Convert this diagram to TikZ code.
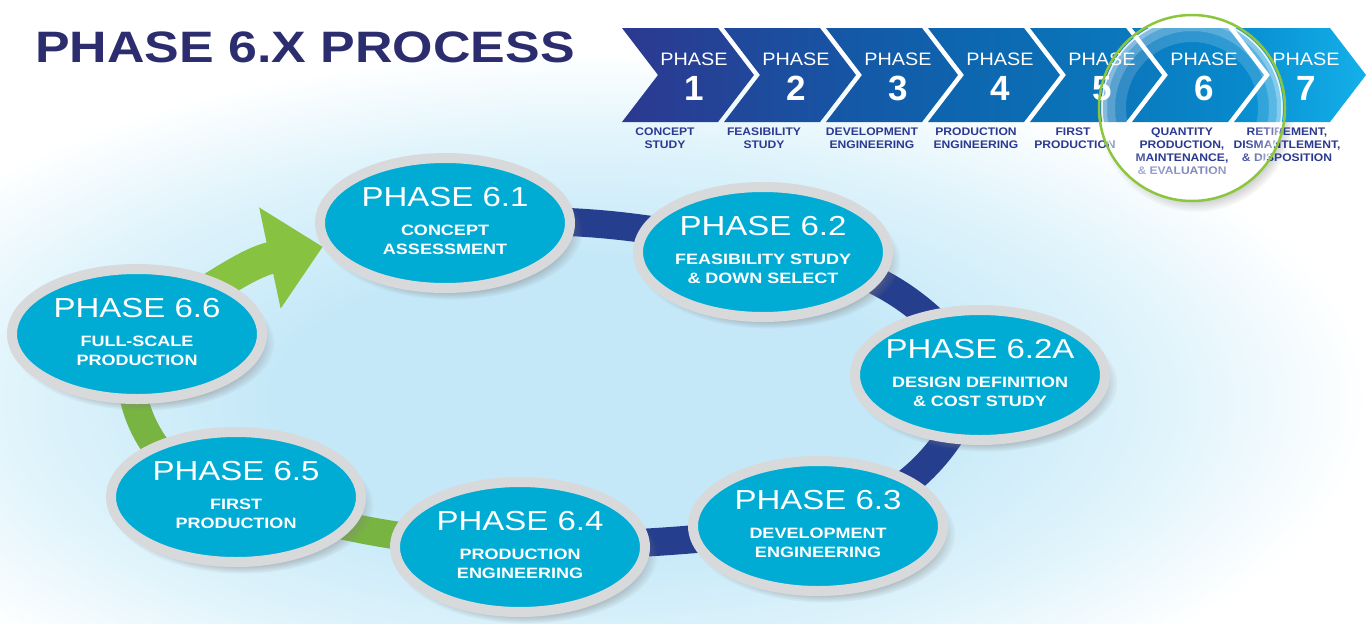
\documentclass[tikz,border=0pt]{standalone}
\usepackage{fontspec}
\setmainfont{Liberation Sans}
\newfontfamily\wideA[FakeStretch=1.2]{Liberation Sans}
\newfontfamily\wideT[FakeStretch=1.18]{Liberation Sans}
\newfontfamily\wideB[FakeStretch=1.1]{Liberation Sans}
\usetikzlibrary{shapes.geometric,shadows,calc,arrows.meta}

\definecolor{titlenavy}{RGB}{44,45,110}
\definecolor{labnavy}{RGB}{43,57,144}
\definecolor{ringgrey}{RGB}{216,217,219}
\definecolor{cyanE}{RGB}{0,172,212}
\definecolor{bandblue}{RGB}{38,62,142}
\definecolor{bandgreen}{RGB}{120,180,66}
\definecolor{arrowgreen}{RGB}{135,194,64}
\definecolor{lensgreen}{RGB}{140,198,63}
\definecolor{bgblue}{RGB}{196,232,248}
\definecolor{bgmid}{RGB}{222,243,251}
\definecolor{c0}{RGB}{43,57,144}
\definecolor{c1}{RGB}{33,71,154}
\definecolor{c2}{RGB}{22,86,165}
\definecolor{c3}{RGB}{14,99,173}
\definecolor{c4}{RGB}{11,111,181}
\definecolor{c5}{RGB}{11,123,191}
\definecolor{c6}{RGB}{7,140,207}
\definecolor{c7}{RGB}{20,176,234}

\pgfdeclareradialshading{glow}{\pgfpoint{0bp}{0bp}}{color(0bp)=(bgblue); color(10bp)=(bgblue); color(18bp)=(bgmid); color(25bp)=(white); color(50bp)=(white)}

\pgfdeclarelayer{back}
\pgfdeclarelayer{bands}
\pgfsetlayers{back,bands,main}

\tikzset{
  ph/.style={ellipse, draw=ringgrey, line width=10pt, fill=cyanE,
    minimum width=250pt, minimum height=130pt, inner sep=0pt,
    circular drop shadow={shadow xshift=6pt, shadow yshift=-8pt, opacity=0.55, shadow scale=1.05}},
  phT/.style={anchor=base, inner sep=0pt, text=white, font=\wideA\fontsize{27.5}{30}\selectfont},
  phS/.style={anchor=base, inner sep=0pt, text=white, font=\wideA\bfseries\fontsize{15}{18}\selectfont},
  chevP/.style={anchor=base, inner sep=0pt, text=white, font=\wideB\fontsize{18}{20}\selectfont},
  chevN/.style={anchor=base, inner sep=0pt, text=white, font=\bfseries\fontsize{35}{36}\selectfont},
  chevL/.style={anchor=base, inner sep=0pt, text=labnavy, font=\wideB\bfseries\fontsize{11}{13}\selectfont},
  bband/.style={draw=bandblue, line width=28pt},
  gband/.style={draw=bandgreen, line width=28pt},
  garrow/.style={draw=arrowgreen, line width=32pt, -{Triangle[length=54pt,width=100pt]}}
}

\newcommand\PhNode[6]{%
  \node[ph] (#1) at (#2,#3) {};
  \node[phT] (#1t) at ($(#1.center)+(0,-17)$) {#4};
  \node[phS] (#1a) at ($(#1.center)+(0,12)$) {#5};
  \node[phS] (#1b) at ($(#1.center)+(0,31)$) {#6};
}

\begin{document}
\begin{tikzpicture}[x=1pt,y=-1pt]
\useasboundingbox (0,0) rectangle (1366,624);

\begin{pgfonlayer}{back}
  \fill[white] (0,0) rectangle (1366,624);
  \shade[shading=glow] (590,400) ellipse [x radius=780, y radius=350];
\end{pgfonlayer}

% title
\node[anchor=base west, inner sep=0pt, text=titlenavy, font=\wideT\bfseries\fontsize{44}{44}\selectfont] (title) at (35,62) {PHASE 6.X PROCESS};

% lens shadow (under chevrons)
\node[circle, minimum size=186pt, inner sep=0pt, fill=white,
  circular drop shadow={shadow xshift=4pt, shadow yshift=-6pt, opacity=0.45, shadow scale=1.05}] (lensshadow) at (1192,108) {};

% chevrons
\foreach \k/\ca/\cb in {0/c0/c1,1/c1/c2,2/c2/c3,3/c3/c4,4/c4/c5,5/c5/c6,6/c6/c7}{
  \shade[left color=\ca, right color=\cb] ({622+102*\k},28) -- ++(96,0) -- ++(36,47) -- ++(-36,47) -- ++(-96,0) -- ++(36,-47) -- cycle;
}
\foreach \k [count=\n] in {0,...,6}{
  \node[chevP] (cp\n) at ({694+102*\k},65) {PHASE};
  \node[chevN] (cn\n) at ({694+102*\k},100) {\n};
}

% chevron labels
\node[chevL] (l1a) at (665,135) {CONCEPT};
\node[chevL] (l1b) at (665,148) {STUDY};
\node[chevL] (l2a) at (764,135) {FEASIBILITY};
\node[chevL] (l2b) at (764,148) {STUDY};
\node[chevL] (l3a) at (872,135) {DEVELOPMENT};
\node[chevL] (l3b) at (872,148) {ENGINEERING};
\node[chevL] (l4a) at (976,135) {PRODUCTION};
\node[chevL] (l4b) at (976,148) {ENGINEERING};
\node[chevL] (l5a) at (1073,135) {FIRST};
\node[chevL] (l5b) at (1075,148) {PRODUCTION};
\node[chevL] (l6a) at (1182,135) {QUANTITY};
\node[chevL] (l6b) at (1182,148) {PRODUCTION,};
\node[chevL] (l6c) at (1182,161) {MAINTENANCE,};
\node[chevL, text=labnavy!60!white] (l6d) at (1182,174) {\& EVALUATION};
\node[chevL] (l7a) at (1287,135) {RETIREMENT,};
\node[chevL] (l7b) at (1287,148) {DISMANTLEMENT,};
\node[chevL] (l7c) at (1287,161) {\& DISPOSITION};

% lens
\node[circle, minimum size=186pt, inner sep=0pt, draw=lensgreen, line width=2.5pt] (lens) at (1192,108) {};
\fill[white, opacity=0.5, even odd rule] (lens.center) circle (91pt) circle (85pt);
\fill[white, opacity=0.32, even odd rule] (lens.center) circle (85pt) circle (77pt);
\fill[white, opacity=0.16, even odd rule] (lens.center) circle (77pt) circle (66pt);
\draw[white, line width=1.5pt, opacity=0.8] (lens.center) circle (90pt);

% phase ellipses
\PhNode{n61}{445}{223}{PHASE 6.1}{CONCEPT}{ASSESSMENT}
\PhNode{n62}{763}{252}{PHASE 6.2}{FEASIBILITY STUDY}{\& DOWN SELECT}
\PhNode{n62A}{980}{375}{PHASE 6.2A}{DESIGN DEFINITION}{\& COST STUDY}
\PhNode{n63}{818}{526}{PHASE 6.3}{DEVELOPMENT}{ENGINEERING}
\PhNode{n64}{520}{547}{PHASE 6.4}{PRODUCTION}{ENGINEERING}
\PhNode{n65}{236}{497}{PHASE 6.5}{FIRST}{PRODUCTION}
\PhNode{n66}{137}{334}{PHASE 6.6}{FULL-SCALE}{PRODUCTION}

% connectors
\begin{pgfonlayer}{bands}
  \draw[bband] (n61.center) to[bend left=8] (n62.center);
  \draw[bband] (n62.center) to[bend left=25] (n62A.center);
  \draw[bband] (n62A.center) to[bend left=27] (n63.center);
  \draw[bband] (n63.center) to[bend left=3] (n64.center);
  \draw[gband] (n64.center) to[bend left=7] (n65.center);
  \draw[gband] (n65.center) to[bend left=50] (n66.center);
  \draw[garrow] (n66.center) to[out=30, in=192] (n61.191);
\end{pgfonlayer}
\end{tikzpicture}
\end{document}
